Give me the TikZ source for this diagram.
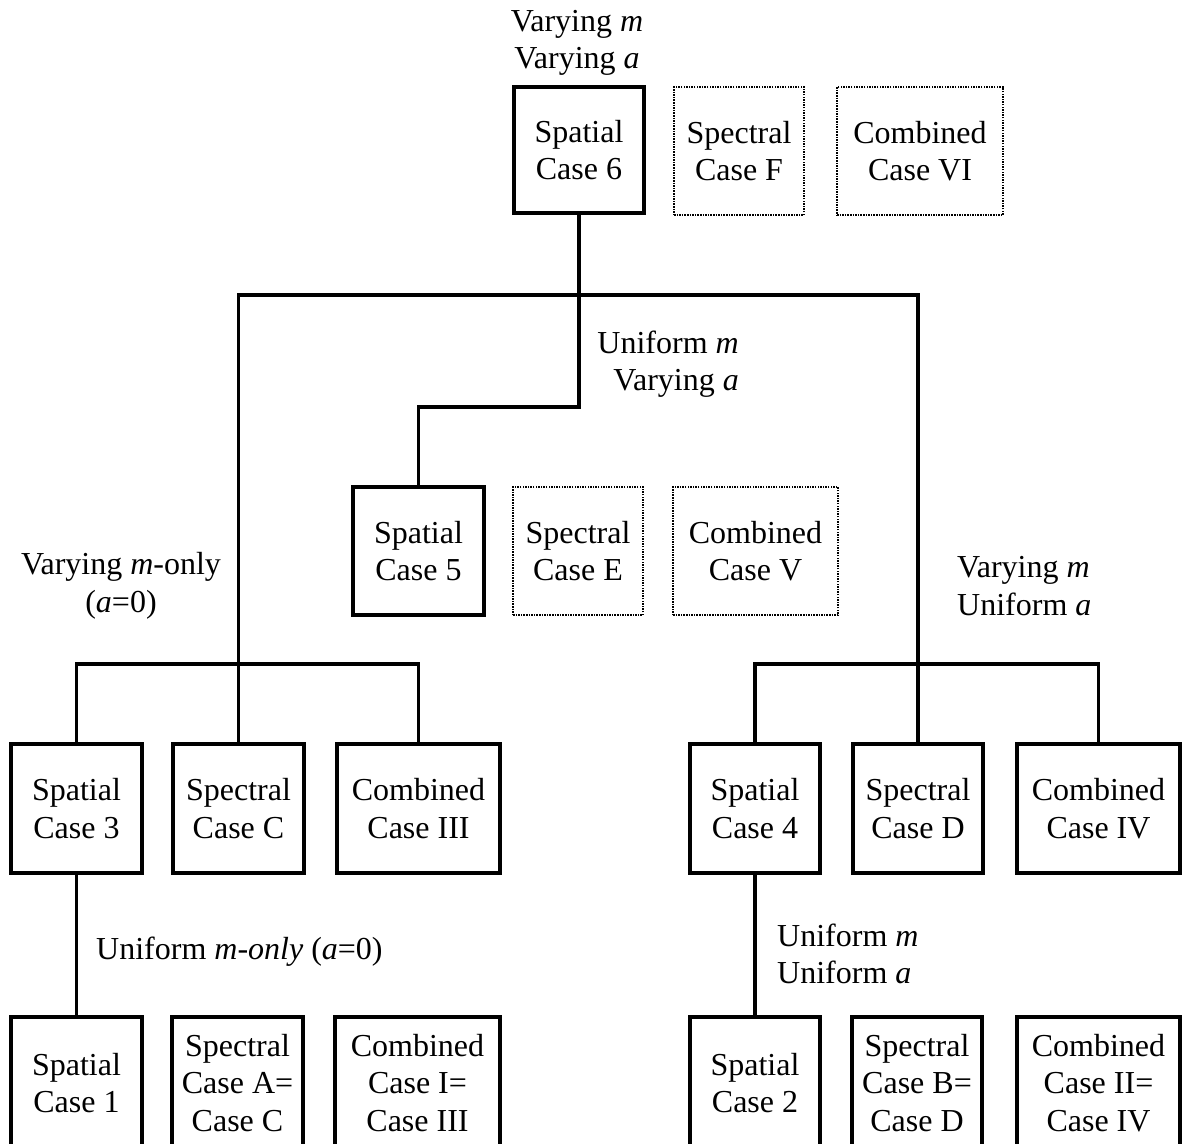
\documentclass[tikz,border=0pt]{standalone}
\usepackage{fontspec}
\setmainfont{Liberation Serif}
\begin{document}
\begin{tikzpicture}[x=1pt,y=-1pt,
  txt/.style={font=\fontsize{32}{37.5}\selectfont, inner sep=0pt},
  solidbox/.style={txt, draw, line width=3.8pt, align=center, minimum height=128pt},
  dotbox/.style={txt, draw, line width=2.1pt, dash pattern=on 1.5pt off 1.1pt, align=center, minimum height=128pt},
  link/.style={line width=3.5pt, line join=miter},
  lbl/.style={txt}]
\useasboundingbox (0,0) rectangle (1183,1143);

% top level
\node[solidbox, minimum width=130pt, minimum height=126pt] (s6) at (579,150) {Spatial\\Case 6};
\node[dotbox, minimum width=130pt] (cF) at (739,151) {Spectral\\Case F};
\node[dotbox, minimum width=166pt] (cVI) at (920,151) {Combined\\Case VI};

% second level
\node[solidbox, minimum width=131pt] (s5) at (418.5,551) {Spatial\\Case 5};
\node[dotbox, minimum width=130pt] (cE) at (578,551) {Spectral\\Case E};
\node[dotbox, minimum width=165pt] (cV) at (755.5,551) {Combined\\Case V};

% third level
\node[solidbox, minimum width=131pt, minimum height=129pt] (s3) at (76.5,808.5) {Spatial\\Case 3};
\node[solidbox, minimum width=131pt, minimum height=129pt] (cC) at (238.5,808.5) {Spectral\\Case C};
\node[solidbox, minimum width=163pt, minimum height=129pt] (cIII) at (418.5,808.5) {Combined\\Case III};
\node[solidbox, minimum width=130pt, minimum height=129pt] (s4) at (755,808.5) {Spatial\\Case 4};
\node[solidbox, minimum width=130pt, minimum height=129pt] (cD) at (918,808.5) {Spectral\\Case D};
\node[solidbox, minimum width=163pt, minimum height=129pt] (cIV) at (1098.5,808.5) {Combined\\Case IV};

% bottom level
\node[solidbox, minimum width=131pt, minimum height=132pt] (s1) at (76.5,1083) {Spatial\\Case 1};
\node[solidbox, minimum width=131pt, minimum height=132pt] (cA) at (237.5,1083) {Spectral\\Case A=\\Case C};
\node[solidbox, minimum width=165pt, minimum height=132pt] (cI) at (417.5,1083) {Combined\\Case I=\\Case III};
\node[solidbox, minimum width=130pt, minimum height=132pt] (s2) at (755,1083) {Spatial\\Case 2};
\node[solidbox, minimum width=130pt, minimum height=132pt] (cB) at (917,1083) {Spectral\\Case B=\\Case D};
\node[solidbox, minimum width=163pt, minimum height=132pt] (cII) at (1098.5,1083) {Combined\\Case II=\\Case IV};

% branch levels
\coordinate (topbar) at (0,295);
\coordinate (stepbar) at (0,407);
\coordinate (midbar) at (0,664);

% connectors
\draw[link] (cC.north) |- (cD.north |- topbar) -- (cD.north);
\draw[link] (s6.south) |- (s5.north |- stepbar) -- (s5.north);
\draw[link] (s3.north) |- (cIII.north |- midbar) -- (cIII.north);
\draw[link] (s4.north) |- (cIV.north |- midbar) -- (cIV.north);
\draw[link] (s3.south) -- (s1.north);
\draw[link] (s4.south) -- (s2.north);

% labels
\node[lbl, align=center] (l6) at (577,43) {Varying \textit{m}\\Varying \textit{a}};
\node[lbl, align=right, anchor=east] (l5) at (739,364) {Uniform \textit{m}\\Varying \textit{a}};
\node[lbl, align=center] (l3) at (121,586) {Varying \textit{m}-only\\(\textit{a}=0)};
\node[lbl, align=left, anchor=west] (l4) at (957,586) {Varying \textit{m}\\Uniform \textit{a}};
\node[lbl, anchor=west] (l1) at (96,952) {Uniform \textit{m-only} (\textit{a}=0)};
\node[lbl, align=left, anchor=west] (l2) at (777,954) {Uniform \textit{m}\\Uniform \textit{a}};
\end{tikzpicture}
\end{document}
